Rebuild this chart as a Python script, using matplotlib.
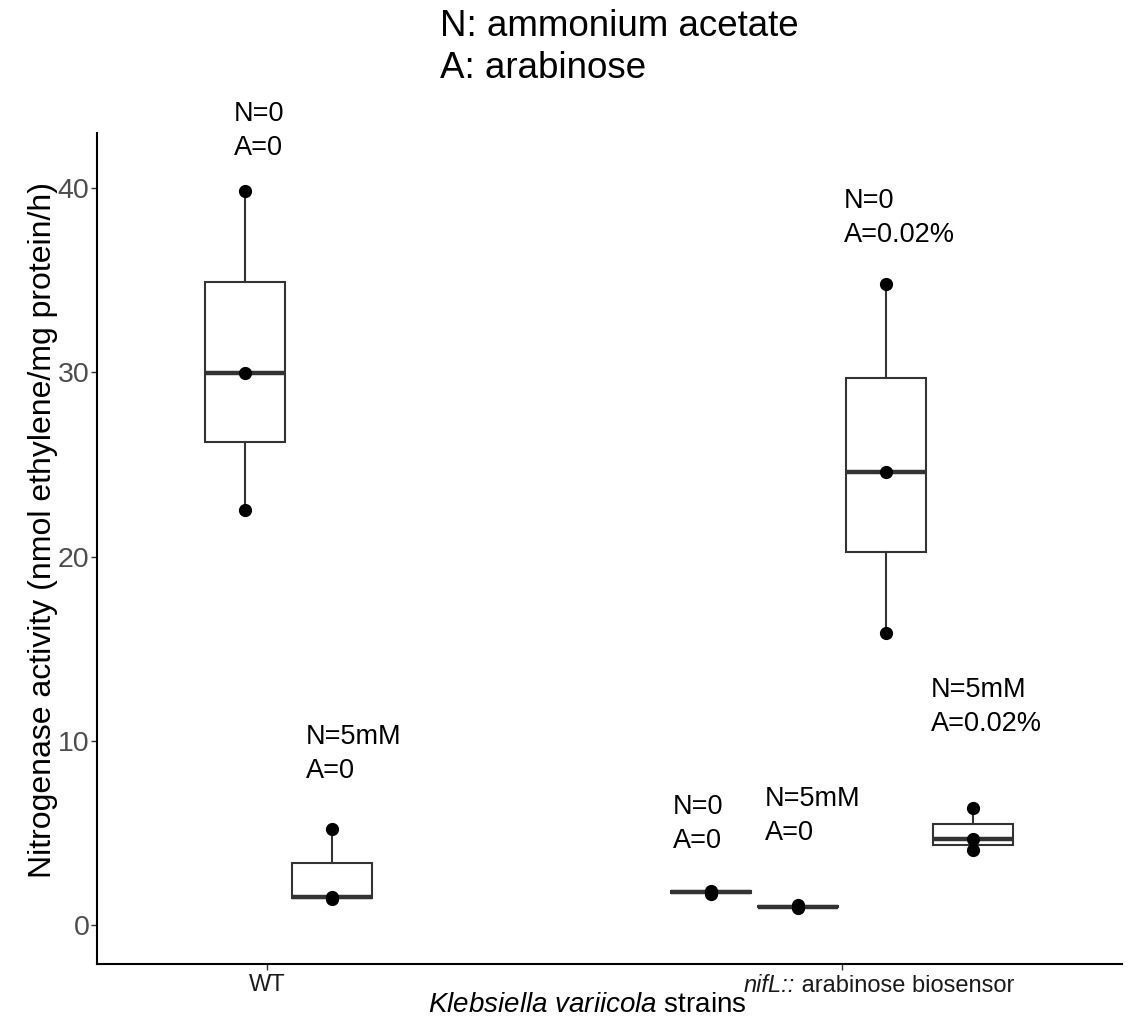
import matplotlib.pyplot as plt
from matplotlib import transforms

plt.rcParams['font.family'] = ['Liberation Sans', 'DejaVu Sans']
plt.rcParams['mathtext.fontset'] = 'custom'
plt.rcParams['mathtext.rm'] = 'Liberation Sans'
plt.rcParams['mathtext.it'] = 'Liberation Sans:italic'

# Nitrogenase activity, three replicates per condition
wt_n0_a0 = [22.5, 29.95, 39.85]
wt_n5_a0 = [1.4, 1.5, 5.2]
nif_n0_a0 = [1.7, 1.8, 1.85]
nif_n5_a0 = [0.9, 1.0, 1.1]
nif_n0_a2 = [15.85, 24.6, 34.8]
nif_n5_a2 = [4.05, 4.65, 6.35]

groups = [wt_n0_a0, wt_n5_a0, nif_n0_a0, nif_n5_a0, nif_n0_a2, nif_n5_a2]
group_strain = [1, 1, 2, 2, 2, 2]
group_labels = ['N=0\nA=0', 'N=5mM\nA=0', 'N=0\nA=0', 'N=5mM\nA=0',
                'N=0\nA=0.02%', 'N=5mM\nA=0.02%']

strain_ticks = [1, 2]
strain_labels = ['WT', ('nifL::', ' arabinose biosensor')]

# layout
offsets = [-0.038, 0.113, -0.228, -0.076, 0.076, 0.228]
label_x = [0.9426, 1.0678, 1.7061, 1.8661, 2.0035, 2.1548]
label_y = [41.79, 7.98, 4.18, 4.61, 37.07, 10.53]

fig = plt.figure(figsize=(11.32, 10.32), dpi=100)
ax = fig.add_axes([0.0857, 0.0659, 0.9055, 0.8052])

positions = [s + o for s, o in zip(group_strain, offsets)]
ax.boxplot(groups, positions=positions, widths=0.139, whis=(0, 100),
           showcaps=False, showfliers=False, patch_artist=True,
           boxprops=dict(facecolor='white', edgecolor='#333333', linewidth=1.5),
           whiskerprops=dict(color='#333333', linewidth=1.5),
           medianprops=dict(color='#333333', linewidth=3.2))

for pos, vals in zip(positions, groups):
    ax.plot([pos] * len(vals), vals, 'o', color='black', ms=8.5, zorder=5)

for x, y, txt in zip(label_x, label_y, group_labels):
    ax.text(x, y, txt, fontsize=19.5, ha='left', va='baseline',
            linespacing=1.4, clip_on=False)

ax.set_xlim(0.704, 2.487)
ax.set_ylim(-2.12, 42.99)
ax.set_yticks([0, 10, 20, 30, 40])
ax.tick_params(axis='y', labelsize=20.5, labelcolor='#4D4D4D', color='#333333',
               length=4, width=1, pad=1.5)
ax.set_xticks(strain_ticks)
ax.set_xticklabels([])
ax.tick_params(axis='x', color='#333333', length=4, width=1)

# x tick labels (second one mixes italic and upright text)
trans = transforms.blended_transform_factory(ax.transData, ax.transAxes)
ax.text(1.0, -0.012, strain_labels[0], transform=trans, ha='center', va='top',
        fontsize=17, color='#1a1a1a')
t1 = ax.text(1.828, -0.012, strain_labels[1][0], transform=trans, ha='left',
             va='top', fontsize=17, color='#1a1a1a', style='italic')
ax.annotate(strain_labels[1][1], xy=(1, 0), xycoords=t1, ha='left', va='bottom',
            fontsize=17, color='#1a1a1a')

for side in ['top', 'right']:
    ax.spines[side].set_visible(False)
for side in ['left', 'bottom']:
    ax.spines[side].set_linewidth(1.5)

fig.text(43 / 1132, 1 - 530 / 1032, 'Nitrogenase activity (nmol ethylene/mg protein/h)',
         rotation=90, ha='center', va='center', fontsize=23)
fig.text(587 / 1132, 1 - 1005 / 1032, r'$\mathit{Klebsiella\ variicola}$ strains',
         ha='center', va='center', fontsize=20)

fig.text(440 / 1132, 1 - 9 / 1032, 'N: ammonium acetate\nA: arabinose',
         ha='left', va='top', fontsize=26.5, linespacing=1.25)

fig.savefig('out.png', dpi=100)
